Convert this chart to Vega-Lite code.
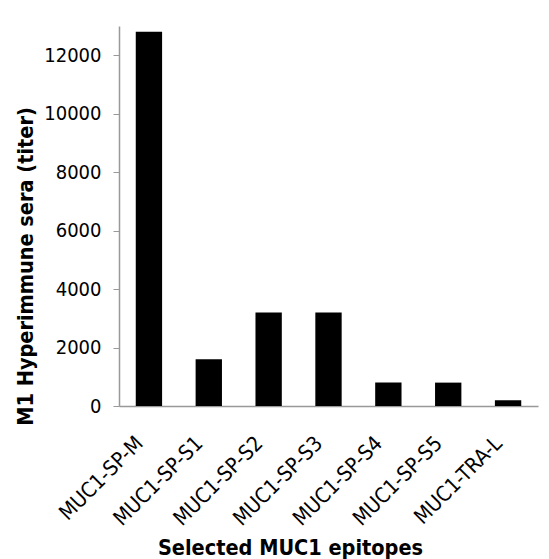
{
  "$schema": "https://vega.github.io/schema/vega-lite/v6.json",
  "width": 419,
  "height": 380,
  "autosize": "none",
  "padding": {"left": 119, "top": 26, "right": 11, "bottom": 153},
  "background": "white",
  "config": {
    "view": {"stroke": null},
    "font": "DejaVu Sans Condensed"
  },
  "data": {
    "values": [
      {"epitope": "MUC1-SP-M", "titer": 12800},
      {"epitope": "MUC1-SP-S1", "titer": 1600},
      {"epitope": "MUC1-SP-S2", "titer": 3200},
      {"epitope": "MUC1-SP-S3", "titer": 3200},
      {"epitope": "MUC1-SP-S4", "titer": 800},
      {"epitope": "MUC1-SP-S5", "titer": 800},
      {"epitope": "MUC1-TRA-L", "titer": 200}
    ]
  },
  "mark": {"type": "bar", "color": "black"},
  "encoding": {
    "x": {
      "field": "epitope",
      "type": "nominal",
      "sort": null,
      "scale": {"paddingInner": 0.56, "paddingOuter": 0.28},
      "axis": {
        "title": "Selected MUC1 epitopes",
        "titleFont": "DejaVu Sans Condensed",
        "titleFontWeight": "bold",
        "titleFontSize": 21.5,
        "titleColor": "black",
        "titleX": 171,
        "titleY": 148,
        "titleBaseline": "alphabetic",
        "labelAngle": -45,
        "labelAlign": "right",
        "labelBaseline": "middle",
        "labelFontSize": 21,
        "labelColor": "black",
        "labelPadding": 34,
        "labelOffset": -9,
        "ticks": false,
        "domainColor": "#999999",
        "domainWidth": 1.5
      }
    },
    "y": {
      "field": "titer",
      "type": "quantitative",
      "scale": {"domain": [0, 13000], "nice": false},
      "axis": {
        "title": "M1 Hyperimmune sera (titer)",
        "titleFontWeight": "bold",
        "titleFontSize": 21.5,
        "titleColor": "black",
        "titleX": -87,
        "titleY": 240,
        "titleBaseline": "alphabetic",
        "titleAngle": -90,
        "values": [0, 2000, 4000, 6000, 8000, 10000, 12000],
        "format": "d",
        "grid": false,
        "labelFontSize": 20,
        "labelColor": "black",
        "labelPadding": 12,
        "tickSize": 6,
        "tickColor": "#999999",
        "domainColor": "#999999",
        "domainWidth": 1.5
      }
    }
  }
}
